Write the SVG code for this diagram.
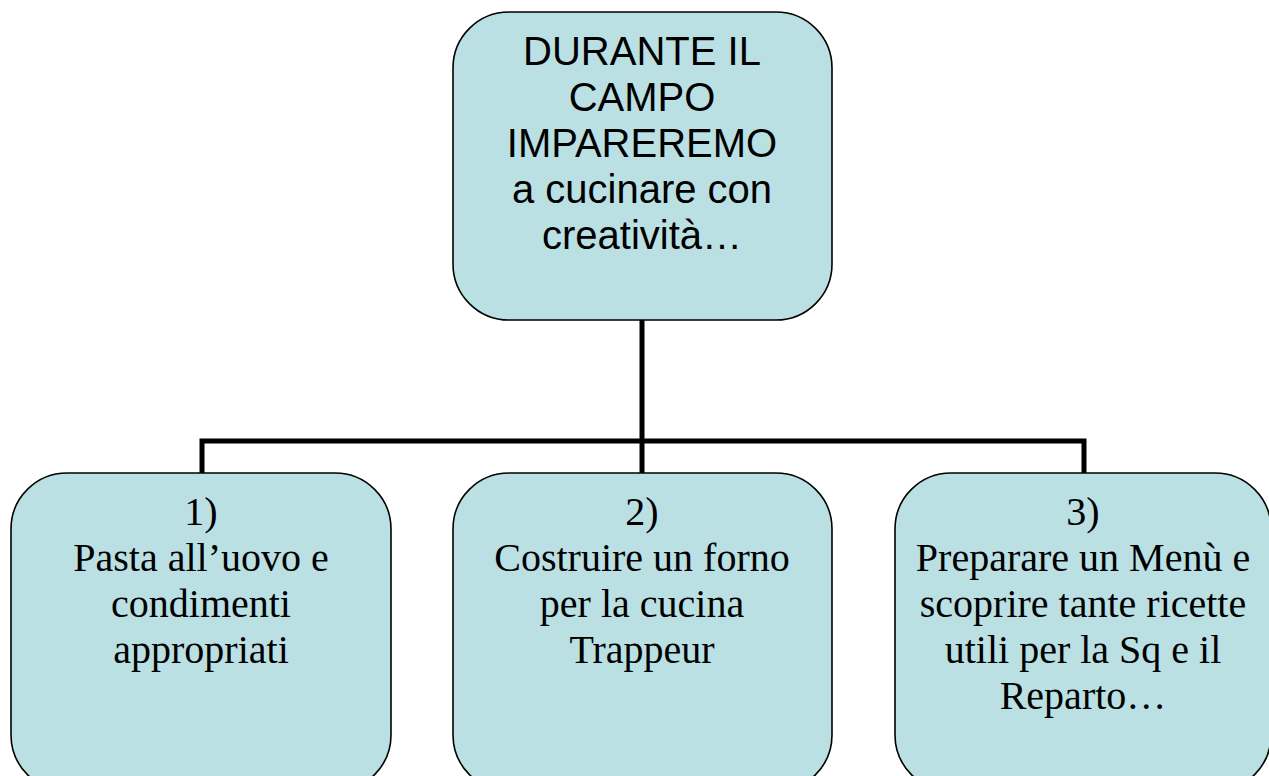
<svg xmlns="http://www.w3.org/2000/svg" width="1269" height="776" viewBox="0 0 1269 776">
<style>
.box{fill:#BAE0E4;stroke:#000;stroke-width:1.6}
.conn{fill:none;stroke:#000;stroke-width:5;stroke-linejoin:miter;stroke-linecap:butt}
.sans{font-family:"Liberation Sans",Arial,sans-serif;font-size:40px;fill:#000;text-anchor:middle}
.serif{font-family:"Liberation Serif","Times New Roman",serif;font-size:40px;fill:#000;text-anchor:middle}
</style>
<rect width="1269" height="776" fill="#fff"/>
<g id="connectors">
<path class="conn" d="M642 320 V441"/>
<path class="conn" d="M202 473 V441 H1084 V473"/>
<path class="conn" d="M642 441 V473"/>
</g>
<g id="top">
<rect class="box" x="453" y="12" width="379" height="308" rx="56" ry="56"/>
<text class="sans" x="642" y="65">DURANTE IL</text>
<text class="sans" x="642" y="111">CAMPO</text>
<text class="sans" x="642" y="157">IMPAREREMO</text>
<text class="sans" x="642" y="203">a cucinare con</text>
<text class="sans" x="642" y="249">creatività…</text>
</g>
<g id="node1">
<rect class="box" x="11" y="473" width="380" height="318" rx="56" ry="56"/>
<text class="serif" x="201" y="525">1)</text>
<text class="serif" x="201" y="571">Pasta all’uovo e</text>
<text class="serif" x="201" y="617">condimenti</text>
<text class="serif" x="201" y="663">appropriati</text>
</g>
<g id="node2">
<rect class="box" x="453" y="473" width="379" height="318" rx="56" ry="56"/>
<text class="serif" x="642" y="525">2)</text>
<text class="serif" x="642" y="571">Costruire un forno</text>
<text class="serif" x="642" y="617">per la cucina</text>
<text class="serif" x="642" y="663">Trappeur</text>
</g>
<g id="node3">
<rect class="box" x="895" y="473" width="376" height="318" rx="56" ry="56"/>
<text class="serif" x="1083" y="525">3)</text>
<text class="serif" x="1083" y="571">Preparare un Menù e</text>
<text class="serif" x="1083" y="617">scoprire tante ricette</text>
<text class="serif" x="1083" y="663">utili per la Sq e il</text>
<text class="serif" x="1083" y="709">Reparto…</text>
</g>
</svg>
